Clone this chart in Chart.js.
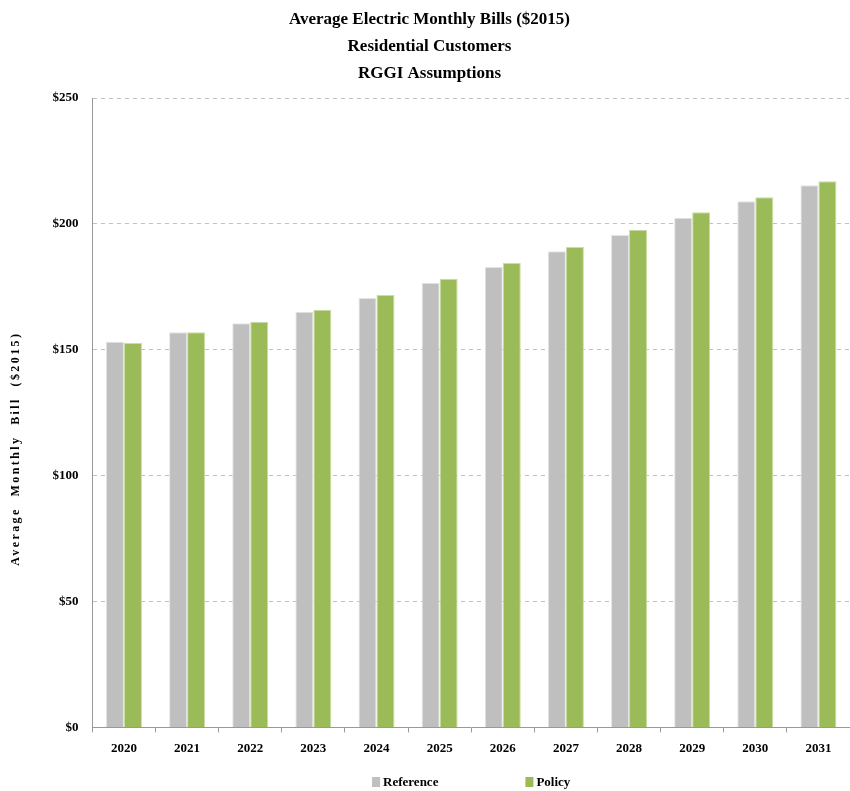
<!DOCTYPE html>
<html>
<head>
<meta charset="utf-8">
<script src="https://cdn.jsdelivr.net/npm/chart.js@4.4.0/dist/chart.umd.min.js"></script>
<style>
    html, body { margin: 0; padding: 0; background: #fff; }
    #wrap { width: 850px; height: 791px; }
</style>
</head>
<body>
<div id="wrap"><canvas id="chart"></canvas></div>
<script>
const years = ['2020', '2021', '2022', '2023', '2024', '2025', '2026', '2027', '2028', '2029', '2030', '2031'];
const referenceBills = [153.2, 157.0, 160.6, 165.1, 170.6, 176.6, 182.9, 189.2, 195.6, 202.5, 209.0, 215.4];
const policyBills = [152.7, 157.0, 161.1, 165.9, 171.8, 178.2, 184.5, 190.8, 197.7, 204.6, 210.6, 217.0];
const yTicks = [0, 50, 100, 150, 200, 250];

const serif = '"Liberation Serif", "Times New Roman", serif';

// legend drawn by hand: wide gap between the two items, centred under the plot
const bottomLegend = {
    id: 'bottomLegend',
    afterDraw(chart) {
        const c = chart.ctx;
        const area = chart.chartArea;
        const box = 8, gap = 3, spacing = 87;
        c.save();
        c.font = 'bold 13px ' + serif;
        c.textBaseline = 'middle';
        const items = chart.data.datasets.map(ds => ({
            text: ds.label,
            color: ds.backgroundColor,
            w: box + gap + c.measureText(ds.label).width
        }));
        const total = items.reduce((s, it) => s + it.w, 0) + spacing * (items.length - 1);
        let x = (area.left + area.right) / 2 - total / 2;
        const y = chart.height - 9;
        items.forEach(it => {
            c.fillStyle = it.color;
            c.fillRect(x, y - 5, box, 10);
            c.fillStyle = '#000';
            c.fillText(it.text, x + box + gap, y + 1);
            x += it.w + spacing;
        });
        c.restore();
    }
};

// spaced-out letters on the y axis title, sitting a bit low like the original
const spacedYTitle = {
    id: 'spacedYTitle',
    beforeDraw(chart) {
        const y = chart.scales.y;
        if (!y || y._spaced) return;
        const orig = y.drawTitle;
        y.drawTitle = function() {
            const c = this.ctx;
            c.save();
            c.letterSpacing = '2.4px';
            c.translate(0, 36);
            orig.apply(this, arguments);
            c.restore();
        };
        y._spaced = true;
    }
};

const ctx = document.getElementById('chart').getContext('2d');
new Chart(ctx, {
    type: 'bar',
    data: {
        labels: years,
        datasets: [{
            label: 'Reference',
            data: referenceBills,
            backgroundColor: '#BFBFBF',
            borderColor: '#E4E4E4',
            borderWidth: 1,
            categoryPercentage: 0.57,
            barPercentage: 1.0
        }, {
            label: 'Policy',
            data: policyBills,
            backgroundColor: '#9BBB59',
            borderColor: '#C9DDA6',
            borderWidth: 1,
            categoryPercentage: 0.57,
            barPercentage: 1.0
        }]
    },
    plugins: [bottomLegend, spacedYTitle],
    options: {
        responsive: true,
        maintainAspectRatio: false,
        animation: false,
        layout: { padding: { left: 9, right: 0, top: 0, bottom: 27 } },
        plugins: {
            title: {
                display: true,
                text: ['Average Electric Monthly Bills ($2015)', 'Residential Customers', 'RGGI Assumptions'],
                color: '#000',
                font: { family: serif, size: 17, weight: 'bold', lineHeight: 1.59 },
                padding: { top: 6, bottom: 11 }
            },
            legend: { display: false },
            tooltip: { enabled: false }
        },
        scales: {
            x: {
                grid: {
                    display: true,
                    drawOnChartArea: false,
                    drawTicks: true,
                    tickLength: 5,
                    color: '#999',
                    offset: true
                },
                border: { color: '#999', width: 1 },
                ticks: {
                    color: '#000',
                    font: { family: serif, size: 13, weight: 'bold' },
                    padding: 8
                }
            },
            y: {
                min: 0,
                max: 250,
                afterBuildTicks: axis => { axis.ticks = yTicks.map(v => ({ value: v })); },
                grid: {
                    color: c => c.tick && c.tick.value === 0 ? 'rgba(0,0,0,0)' : '#C0C0C0',
                    drawTicks: false
                },
                border: { color: '#999', width: 1, dash: [4, 4] },
                ticks: {
                    color: '#000',
                    font: { family: serif, size: 13, weight: 'bold' },
                    padding: 14,
                    callback: v => '$' + v
                },
                title: {
                    display: true,
                    text: 'Average  Monthly  Bill  ($2015)',
                    color: '#000',
                    font: { family: serif, size: 12, weight: 'bold' },
                    padding: { top: 0, bottom: 15 }
                }
            }
        }
    }
});
</script>
</body>
</html>
